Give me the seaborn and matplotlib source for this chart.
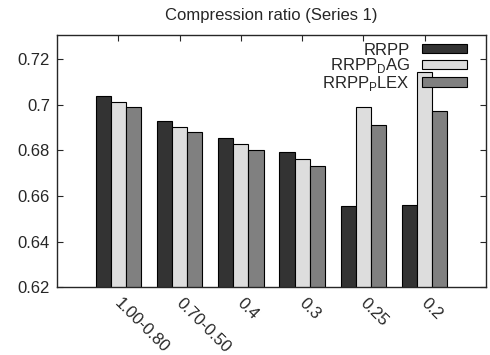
import pandas as pd
import numpy as np
import matplotlib
matplotlib.use("Agg")
import matplotlib.pyplot as plt
import seaborn as sns
from matplotlib.patches import Patch

# values
categories = ["1.00-0.80", "0.70-0.50", "0.4", "0.3", "0.25", "0.2"]
series_names = ["RRPP", "RRPP$_{\\mathrm{D}}$AG", "RRPP$_{\\mathrm{P}}$LEX"]
rrpp = [0.7039, 0.6929, 0.6855, 0.6791, 0.6557, 0.6562]
rrpp_dag = [0.7013, 0.6903, 0.6829, 0.6761, 0.6991, 0.7142]
rrpp_plex = [0.6991, 0.6878, 0.6801, 0.6733, 0.6913, 0.6970]
colors = ["#333333", "#dddddd", "#808080"]

df = pd.DataFrame({
    "category": categories * 3,
    "series": np.repeat(series_names, len(categories)),
    "ratio": rrpp + rrpp_dag + rrpp_plex,
})

sns.set_style("ticks")
plt.rcParams["font.family"] = ["Liberation Sans", "DejaVu Sans"]
plt.rcParams["mathtext.fontset"] = "custom"
plt.rcParams["mathtext.rm"] = "Liberation Sans"

fig = plt.figure(figsize=(4.9, 3.55), dpi=100)
ax = fig.add_axes([0.1163, 0.1907, 0.9918 - 0.1163, 0.9014 - 0.1907])

sns.barplot(data=df, x="category", y="ratio", hue="series", order=categories,
            hue_order=series_names, palette=colors, width=0.74, gap=0,
            edgecolor="black", linewidth=0.8, legend=False, ax=ax)

ax.set_ylim(0.62, 0.7305)
ax.set_xlim(-1, 6)
ax.set_yticks([0.62, 0.64, 0.66, 0.68, 0.70, 0.72])
ax.set_yticklabels(["0.62", "0.64", "0.66", "0.68", "0.7", "0.72"])
ax.set_xlabel("")
ax.set_ylabel("")
ax.set_title("Compression ratio (Series 1)", fontsize=12, pad=11)

for s in ax.spines.values():
    s.set_visible(True)
    s.set_linewidth(1.0)
ax.tick_params(direction="in", length=4.5, width=0.8, labelsize=12,
               top=True, right=True)
ax.tick_params(axis="y", pad=5)
ax.set_xticks(range(len(categories)))
ax.set_xticklabels(categories, rotation=-45, ha="left", va="center_baseline",
                   rotation_mode="anchor")
ax.tick_params(axis="x", pad=9)

handles = [Patch(facecolor=c, edgecolor="black", linewidth=0.8) for c in colors]
ax.legend(handles, series_names, loc="upper right", bbox_to_anchor=(0.955, 0.970),
          frameon=False, markerfirst=False, fontsize=12, handlelength=2.7,
          handleheight=0.5, labelspacing=-0.08, handletextpad=0.7,
          borderaxespad=0.0, borderpad=0.0)

fig.savefig("out.png", dpi=100)
